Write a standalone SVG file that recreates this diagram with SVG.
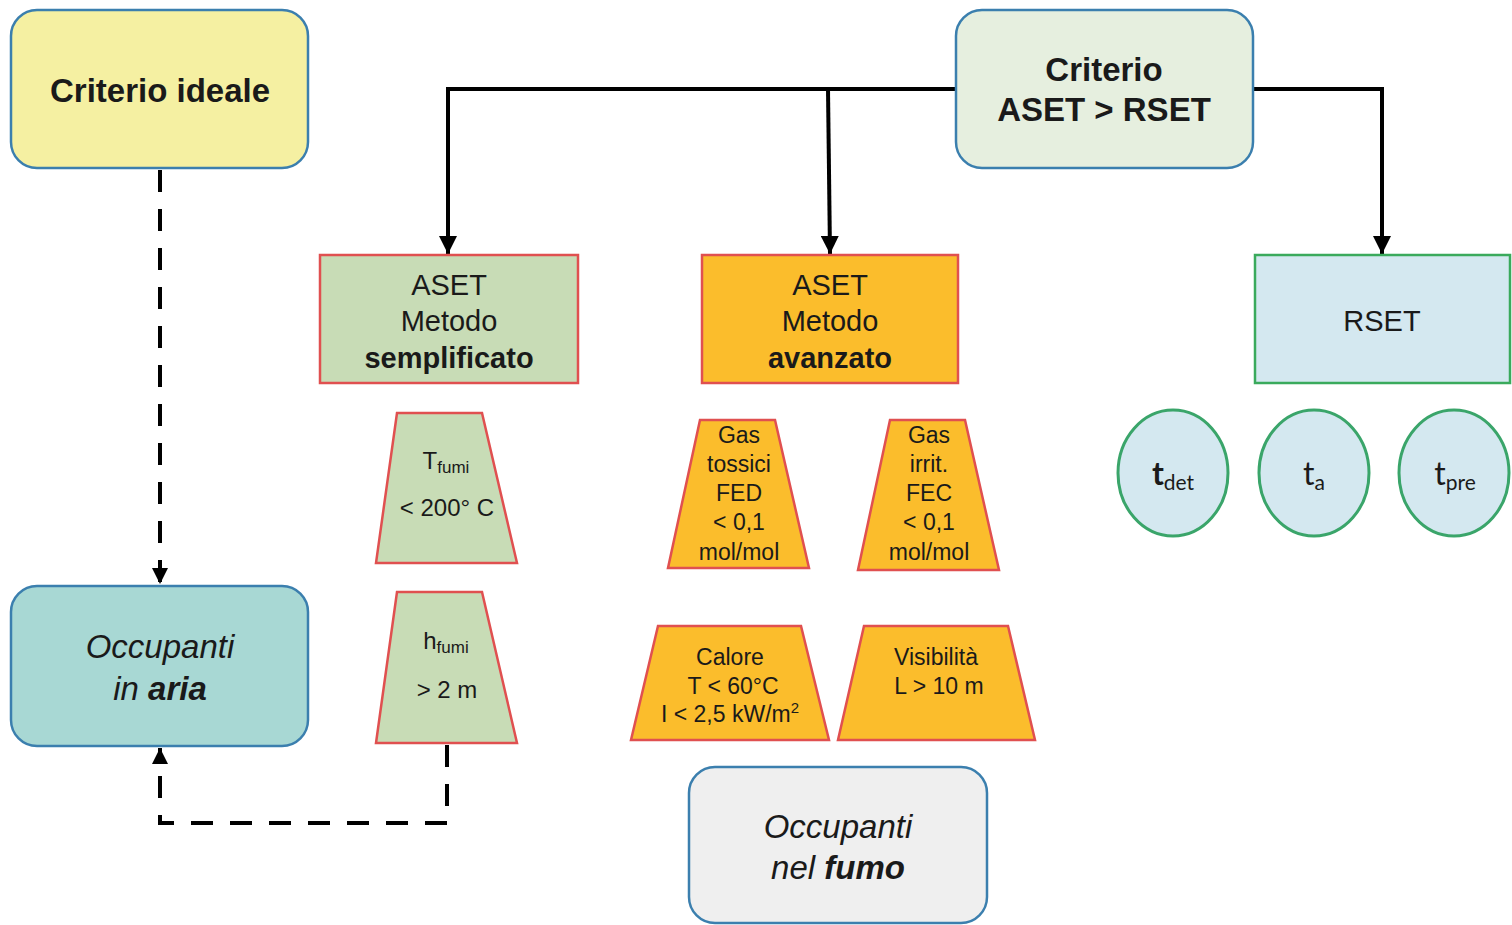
<svg xmlns="http://www.w3.org/2000/svg" width="1512" height="925" viewBox="0 0 1512 925">
<defs>
<marker id="ah" viewBox="0 0 10 10" refX="10" refY="5" markerWidth="4.5" markerHeight="4.5" orient="auto" markerUnits="strokeWidth">
<path d="M0,0 L10,5 L0,10 Z" fill="#000"/>
</marker>
<marker id="ahd" viewBox="0 0 10 10" refX="10" refY="5" markerWidth="4" markerHeight="4" orient="auto" markerUnits="strokeWidth">
<path d="M0,0 L10,5 L0,10 Z" fill="#000"/>
</marker>
<style>
.rr{stroke:#3b7fae;stroke-width:2.5}
.box{stroke:#e05050;stroke-width:2.5}
.trap{stroke:#e05050;stroke-width:2.5}
.grn{stroke:#3aaa5c;stroke-width:2.5}
.circ{fill:#d4e8f0;stroke:#3aa56a;stroke-width:3}
.t{font-family:"Liberation Sans",Arial,sans-serif;text-anchor:middle;fill:#1a1a1a}
.b{font-weight:bold}
.i{font-style:italic}
.c{font-family:Lato,"Noto Sans",sans-serif;text-anchor:middle;fill:#1a1a1a}
.ln{fill:none;stroke:#000;stroke-width:4}
.dl{fill:none;stroke:#000;stroke-width:4;stroke-dasharray:22 17}
</style>
</defs>
<rect width="1512" height="925" fill="#fff"/>

<g id="connectors">
<path class="ln" d="M956,89 H448 V254" marker-end="url(#ah)"/>
<path class="ln" d="M828,89 L830,254" marker-end="url(#ah)"/>
<path class="ln" d="M1253,89 H1382 V254" marker-end="url(#ah)"/>
<path class="dl" d="M160,170 V584" marker-end="url(#ahd)"/>
<path class="dl" d="M447,745 V823 H160 V748" marker-end="url(#ahd)"/>
</g>

<g id="criterio-ideale">
<rect class="rr" x="11" y="10" width="297" height="158" rx="26" fill="#f5f0a2"/>
<text class="t b" x="160" y="102" font-size="33">Criterio ideale</text>
</g>

<g id="criterio-aset-rset">
<rect class="rr" x="956" y="10" width="297" height="158" rx="26" fill="#e6efdf"/>
<text class="t b" x="1104" y="81" font-size="33">Criterio</text>
<text class="t b" x="1104" y="121" font-size="33">ASET &gt; RSET</text>
</g>

<g id="aset-semplificato">
<rect class="box" x="320" y="255" width="258" height="128" fill="#c8dcb6"/>
<text class="t" x="449" y="295" font-size="29">ASET</text>
<text class="t" x="449" y="331" font-size="29">Metodo</text>
<text class="t b" x="449" y="368" font-size="29">semplificato</text>
</g>

<g id="aset-avanzato">
<rect class="box" x="702" y="255" width="256" height="128" fill="#fbbd2c"/>
<text class="t" x="830" y="295" font-size="29">ASET</text>
<text class="t" x="830" y="331" font-size="29">Metodo</text>
<text class="t b" x="830" y="368" font-size="29">avanzato</text>
</g>

<g id="rset">
<rect class="grn" x="1255" y="255" width="255" height="128" fill="#d4e8f0"/>
<text class="t" x="1382" y="331" font-size="29">RSET</text>
</g>

<g id="t-fumi">
<path class="trap" d="M397,413 H482 L517,563 H376 Z" fill="#c8dcb6"/>
<text class="t" x="446" y="469" font-size="24">T<tspan font-size="17" dy="4">fumi</tspan></text>
<text class="t" x="447" y="516" font-size="24">&lt; 200° C</text>
</g>

<g id="h-fumi">
<path class="trap" d="M397,592 H482 L517,743 H376 Z" fill="#c8dcb6"/>
<text class="t" x="446" y="649" font-size="24">h<tspan font-size="17" dy="4">fumi</tspan></text>
<text class="t" x="447" y="698" font-size="24">&gt; 2 m</text>
</g>

<g id="gas-tossici">
<path class="trap" d="M700,420 H775 L809,568 H668 Z" fill="#fbbd2c"/>
<text class="t" x="739" y="443" font-size="23">Gas</text>
<text class="t" x="739" y="472" font-size="23">tossici</text>
<text class="t" x="739" y="501" font-size="23">FED</text>
<text class="t" x="739" y="530" font-size="23">&lt; 0,1</text>
<text class="t" x="739" y="560" font-size="23">mol/mol</text>
</g>

<g id="gas-irritanti">
<path class="trap" d="M890,420 H965 L999,570 H858 Z" fill="#fbbd2c"/>
<text class="t" x="929" y="443" font-size="23">Gas</text>
<text class="t" x="929" y="472" font-size="23">irrit.</text>
<text class="t" x="929" y="501" font-size="23">FEC</text>
<text class="t" x="929" y="530" font-size="23">&lt; 0,1</text>
<text class="t" x="929" y="560" font-size="23">mol/mol</text>
</g>

<g id="calore">
<path class="trap" d="M658,626 H801 L829,740 H631 Z" fill="#fbbd2c"/>
<text class="t" x="730" y="665" font-size="23">Calore</text>
<text class="t" x="733" y="694" font-size="23">T &lt; 60°C</text>
<text class="t" x="730" y="722" font-size="23">I &lt; 2,5 kW/m<tspan font-size="15" dy="-9">2</tspan></text>
</g>

<g id="visibilita">
<path class="trap" d="M864,626 H1008 L1035,740 H838 Z" fill="#fbbd2c"/>
<text class="t" x="936" y="665" font-size="23">Visibilità</text>
<text class="t" x="939" y="694" font-size="23">L &gt; 10 m</text>
</g>

<g id="t-det">
<ellipse class="circ" cx="1173" cy="473" rx="55" ry="63"/>
<text class="c b" x="1173" y="485" font-size="32">t<tspan font-size="21" font-weight="normal" dy="5">det</tspan></text>
</g>

<g id="t-a">
<ellipse class="circ" cx="1314" cy="473" rx="55" ry="63"/>
<text class="c" x="1314" y="485" font-size="32">t<tspan font-size="21" dy="5">a</tspan></text>
</g>

<g id="t-pre">
<ellipse class="circ" cx="1454" cy="473" rx="55" ry="63"/>
<text class="c" x="1455" y="485" font-size="32">t<tspan font-size="21" dy="5">pre</tspan></text>
</g>

<g id="occupanti-aria">
<rect class="rr" x="11" y="586" width="297" height="160" rx="26" fill="#a8d8d4"/>
<text class="t i" x="160" y="658" font-size="33">Occupanti</text>
<text class="t i" x="160" y="700" font-size="33">in <tspan class="b">aria</tspan></text>
</g>

<g id="occupanti-fumo">
<rect class="rr" x="689" y="767" width="298" height="156" rx="26" fill="#efefef"/>
<text class="t i" x="838" y="838" font-size="33">Occupanti</text>
<text class="t i" x="838" y="879" font-size="33">nel <tspan class="b">fumo</tspan></text>
</g>
</svg>
